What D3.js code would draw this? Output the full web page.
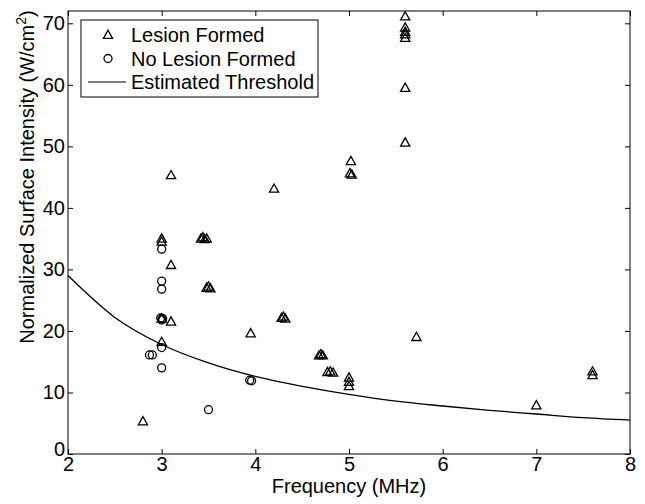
<!DOCTYPE html>
<html>
<head>
<meta charset="utf-8">
<script src="https://cdn.jsdelivr.net/npm/d3@7"></script>
<style>
    body { margin: 0; background: #fff; }
    svg text { font-family: "Liberation Sans", Arial, sans-serif; fill: #000; }
</style>
</head>
<body>
<div id="chart"></div>
<script>
// lesion formed (triangles)
const lesionFreq = [2.8, 3.0, 3.0, 3.0, 3.0, 3.1, 3.1, 3.1, 3.42, 3.44, 3.46, 3.48, 3.48, 3.5, 3.52,
    3.95, 4.2, 4.28, 4.3, 4.32, 4.68, 4.7, 4.72, 4.77, 4.8, 4.83, 5.0, 5.0, 5.0, 5.02, 5.01, 5.03,
    5.6, 5.6, 5.6, 5.6, 5.6, 5.6, 5.6, 5.72, 7.0, 7.6, 7.6];
const lesionIntensity = [5.3, 34.5, 35.0, 22.0, 18.2, 45.3, 30.7, 21.5, 35.0, 35.2, 34.9, 35.0, 27.0, 27.2, 26.9,
    19.6, 43.1, 22.1, 22.3, 22.0, 16.0, 16.2, 16.0, 13.3, 13.4, 13.2, 12.4, 11.7, 11.0, 47.6, 45.6, 45.4,
    71.1, 69.3, 68.6, 68.2, 67.6, 59.5, 50.6, 19.0, 7.9, 13.4, 12.8];

// no lesion formed (circles)
const noLesionFreq = [3.0, 3.0, 3.0, 2.99, 3.01, 3.0, 3.0, 3.0, 2.87, 2.9, 3.5, 3.94, 3.96];
const noLesionIntensity = [33.3, 28.1, 26.8, 22.1, 22.0, 21.8, 17.3, 14.0, 16.1, 16.1, 7.2, 12.0, 11.9];

// estimated threshold
const thresholdFreq = [2, 2.5, 3, 3.5, 4, 4.5, 5, 5.5, 6, 6.5, 7, 7.5, 8];
const thresholdIntensity = [29.0, 22.2, 17.8, 14.8, 12.6, 11.0, 9.7, 8.6, 7.8, 7.1, 6.5, 5.9, 5.5];

const xTicks = [2, 3, 4, 5, 6, 7, 8];
const yTicks = [0, 10, 20, 30, 40, 50, 60, 70];

const legendLabels = ["Lesion Formed", "No Lesion Formed", "Estimated Threshold"];

const W = 645, H = 504;
const margin = { top: 11, right: 15, bottom: 50, left: 68 };
const width = W - margin.left - margin.right;
const height = H - margin.top - margin.bottom;

const svg = d3.select("#chart").append("svg")
    .attr("width", W)
    .attr("height", H);

const g = svg.append("g")
    .attr("transform", `translate(${margin.left},${margin.top})`);

const x = d3.scaleLinear().domain([2, 8]).range([0, width]);
const y = d3.scaleLinear().domain([0, 72]).range([height, 0]);

// axes, ticks pointing inward
const axisFont = "20px";
g.append("g")
    .attr("transform", `translate(0,${height})`)
    .call(d3.axisBottom(x).tickValues(xTicks).tickSize(-5).tickSizeOuter(0).tickPadding(3).tickFormat(d3.format("d")))
    .call(a => a.select(".domain").remove())
    .selectAll("text").style("font-size", axisFont);

g.append("g")
    .call(d3.axisLeft(y).tickValues(yTicks).tickSize(-5).tickSizeOuter(0).tickPadding(3).tickFormat(d3.format("d")))
    .call(a => a.select(".domain").remove())
    .selectAll("text")
    .style("font-size", axisFont)
    .attr("y", d => d === 0 ? -5 : 0);   // raise the 0 a little, as in the original

g.append("g")
    .call(d3.axisTop(x).tickValues(xTicks).tickSize(-5).tickSizeOuter(0).tickFormat(""))
    .call(a => a.select(".domain").remove());

g.append("g")
    .attr("transform", `translate(${width},0)`)
    .call(d3.axisRight(y).tickValues(yTicks).tickSize(-5).tickSizeOuter(0).tickFormat(""))
    .call(a => a.select(".domain").remove());

g.selectAll(".tick line").attr("stroke", "#000");

g.append("rect")
    .attr("width", width)
    .attr("height", height)
    .attr("fill", "none")
    .attr("stroke", "#000")
    .attr("stroke-width", 1);

// threshold curve
const threshold = thresholdFreq.map((f, i) => ({ f: f, v: thresholdIntensity[i] }));
g.append("path")
    .datum(threshold)
    .attr("fill", "none")
    .attr("stroke", "#000")
    .attr("stroke-width", 1.3)
    .attr("d", d3.line().x(d => x(d.f)).y(d => y(d.v)).curve(d3.curveMonotoneX));

const triPath = "M0,-4.8L4.6,3.4L-4.6,3.4Z";

// markers
const lesion = lesionFreq.map((f, i) => ({ f: f, v: lesionIntensity[i] }));
g.selectAll(".lesion")
    .data(lesion)
    .enter()
    .append("path")
    .attr("class", "lesion")
    .attr("d", triPath)
    .attr("transform", d => `translate(${x(d.f)},${y(d.v)})`)
    .attr("fill", "none")
    .attr("stroke", "#000")
    .attr("stroke-width", 1.3);

const noLesion = noLesionFreq.map((f, i) => ({ f: f, v: noLesionIntensity[i] }));
g.selectAll(".nolesion")
    .data(noLesion)
    .enter()
    .append("circle")
    .attr("class", "nolesion")
    .attr("cx", d => x(d.f))
    .attr("cy", d => y(d.v))
    .attr("r", 4)
    .attr("fill", "none")
    .attr("stroke", "#000")
    .attr("stroke-width", 1.3);

// axis labels
svg.append("text")
    .attr("x", margin.left + width / 2)
    .attr("y", 493)
    .attr("text-anchor", "middle")
    .style("font-size", "20px")
    .text("Frequency (MHz)");

// the y label sits high in the original, not centred on the axis
const yLabel = svg.append("text")
    .attr("transform", "translate(34,177) rotate(-90)")
    .attr("text-anchor", "middle")
    .style("font-size", "20px");
yLabel.append("tspan").text("Normalized Surface Intensity (W/cm");
yLabel.append("tspan").attr("dy", -8).style("font-size", "14px").text("2");
yLabel.append("tspan").attr("dy", 8).text(")");

// legend
const legend = svg.append("g");
legend.append("rect")
    .attr("x", 81).attr("y", 20)
    .attr("width", 237).attr("height", 77)
    .attr("fill", "#fff")
    .attr("stroke", "#000")
    .attr("stroke-width", 1);

const rowY = [35, 58.5, 82];
legend.append("path")
    .attr("d", triPath)
    .attr("transform", `translate(108,${rowY[0]})`)
    .attr("fill", "none").attr("stroke", "#000").attr("stroke-width", 1.3);
legend.append("circle")
    .attr("cx", 108).attr("cy", rowY[1]).attr("r", 4)
    .attr("fill", "none").attr("stroke", "#000").attr("stroke-width", 1.3);
legend.append("line")
    .attr("x1", 88).attr("x2", 126)
    .attr("y1", rowY[2]).attr("y2", rowY[2])
    .attr("stroke", "#000").attr("stroke-width", 1);

legend.selectAll(".legtext")
    .data(legendLabels)
    .enter()
    .append("text")
    .attr("class", "legtext")
    .attr("x", 131)
    .attr("y", (d, i) => rowY[i])
    .attr("dy", "0.36em")
    .style("font-size", "20px")
    .text(d => d);
</script>
</body>
</html>
